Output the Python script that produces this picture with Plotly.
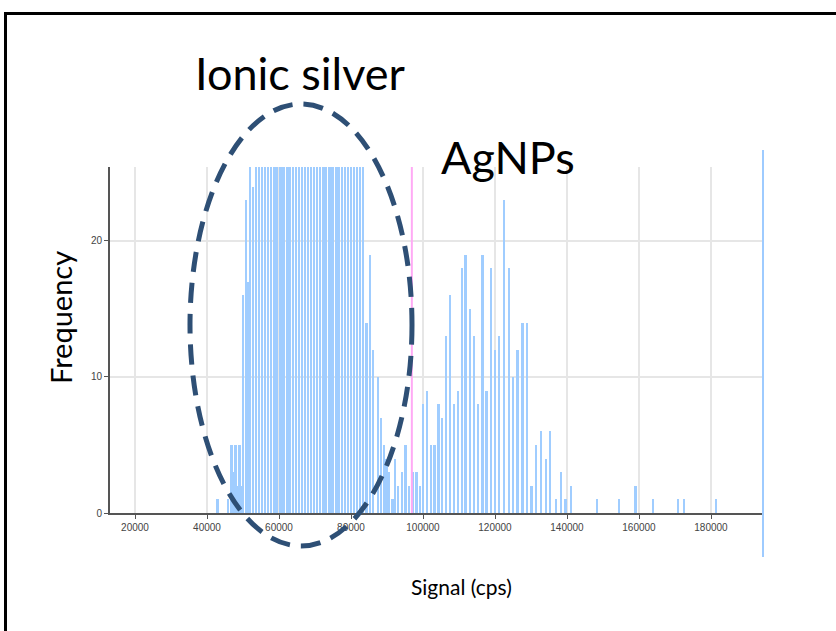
import plotly.graph_objects as go

# ---- data ----
signal_cps = [
    43000, 46000, 46900, 47400, 48000, 48500, 49100, 49600, 50100, 50800, 51500,
    52000, 52800, 53700, 54500, 55400, 56200, 57100, 57900, 58800, 59600,
    60500, 61300, 62200, 63000, 63900, 64700, 65600, 66400, 67300, 68100,
    69000, 69800, 70700, 71500, 72400, 73200, 74100, 74900, 75800, 76600,
    77500, 78300, 79200, 80000, 80900, 81700, 82600, 83500,
    84400, 85300, 86100, 87500, 88300, 89250, 89900, 90600, 91600, 92300,
    93200, 94200, 95200, 96200, 97200, 98250, 99200,
    100100, 101200, 102200, 103250, 104350, 105450, 106400, 107500, 108600,
    109700, 110800, 111900, 113050, 114150, 115450, 116600, 117700, 118950,
    120100, 121200, 122500, 123900, 125000, 126300, 127700, 128950,
    130200, 131450, 132800, 134150, 135450, 136950, 138300, 139650, 141200,
    148500, 154500, 159100, 164000, 170900, 172600, 181400,
]
frequency = [
    1, 1, 5, 3, 5, 2, 5, 2, 16, 23, 17,
    28, 24, 33, 38, 45, 52, 58, 63, 70, 74,
    78, 80, 82, 81, 79, 77, 74, 70, 66, 62,
    58, 55, 51, 48, 45, 42, 40, 37, 35, 33,
    31, 30, 29, 28, 27, 27, 26, 26,
    14, 19, 12, 10, 7, 5, 4, 3, 1, 4,
    2, 3, 5, 2, 3, 3, 2,
    8, 9, 5, 5, 8, 7, 13, 16, 8,
    9, 18, 19, 15, 13, 8, 19, 9, 18,
    12, 13, 23, 18, 10, 12, 14, 14,
    2, 5, 6, 4, 6, 1, 3, 1, 2,
    1, 1, 2, 1, 1, 1, 1,
]
x_tick_values = [20000, 40000, 60000, 80000, 100000, 120000, 140000, 160000, 180000]
x_tick_labels = ["20000", "40000", "60000", "80000", "100000", "120000", "140000", "160000", "180000"]
y_tick_values = [0, 10, 20]
y_tick_labels = ["0", "10", "20"]
threshold_cps = 96900

# ---- layout geometry (pixels) ----
W, H = 836, 631
L, R, T, B = 110, 73, 167, 118
PW, PH = W - L - R, H - T - B


def px(xp):
    return (xp - L) / PW


def py(yp):
    return (H - B - yp) / PH


bar_color = "rgb(160,205,255)"

fig = go.Figure()
fig.add_trace(go.Bar(
    x=signal_cps, y=frequency, width=480,
    marker=dict(color=bar_color, line=dict(width=0)),
    showlegend=False,
))

shapes = [
    # threshold line (pink)
    dict(type="line", xref="x", yref="paper", x0=threshold_cps, x1=threshold_cps,
         y0=0, y1=1, line=dict(color="rgb(255,170,245)", width=2), layer="above"),
    # blue vertical line at right edge
    dict(type="line", xref="paper", yref="paper", x0=1.0, x1=1.0,
         y0=py(557), y1=py(150), line=dict(color="rgb(158,203,255)", width=2)),
    # dashed ellipse
    dict(type="circle", xref="paper", yref="paper",
         x0=px(190), x1=px(412), y0=py(546), y1=py(104),
         line=dict(color="rgb(46,79,117)", width=5, dash="20px,11px"), layer="above"),
    # outer black frame
    dict(type="rect", xref="paper", yref="paper",
         x0=px(5.5), x1=px(850), y0=py(640), y1=py(13.5),
         line=dict(color="black", width=3)),
]

ann_font = "Lato, 'Open Sans', sans-serif"
annotations = [
    dict(text="Ionic silver", xref="paper", yref="paper", x=px(300), y=py(73),
         showarrow=False, font=dict(family=ann_font, size=45, color="black"),
         xanchor="center", yanchor="middle"),
    dict(text="AgNPs", xref="paper", yref="paper", x=px(508), y=py(157),
         showarrow=False, font=dict(family=ann_font, size=45, color="black"),
         xanchor="center", yanchor="middle"),
    dict(text="Frequency", xref="paper", yref="paper", x=px(60), y=py(318),
         showarrow=False, textangle=-90,
         font=dict(family=ann_font, size=29, color="black"),
         xanchor="center", yanchor="middle"),
    dict(text="Signal (cps)", xref="paper", yref="paper", x=px(461), y=py(586),
         showarrow=False, font=dict(family=ann_font, size=21, color="black"),
         xanchor="center", yanchor="middle"),
]

tick_font = dict(family="'Liberation Sans Narrow', 'Liberation Sans', Arial, sans-serif",
                 size=10, color="#444")

fig.update_layout(
    width=W, height=H,
    margin=dict(l=L, r=R, t=T, b=B, pad=0),
    paper_bgcolor="white", plot_bgcolor="white",
    bargap=0,
    shapes=shapes,
    annotations=annotations,
    xaxis=dict(
        range=[13056, 194444], tickmode="array",
        tickvals=x_tick_values, ticktext=x_tick_labels,
        showgrid=True, gridcolor="#E6E6E6", gridwidth=1.5,
        showline=True, linecolor="#555", linewidth=2,
        ticks="outside", ticklen=4, tickcolor="#555", tickwidth=1,
        tickfont=tick_font, zeroline=False,
    ),
    yaxis=dict(
        range=[0, 25.44], tickmode="array",
        tickvals=y_tick_values, ticktext=y_tick_labels,
        showgrid=True, gridcolor="#E6E6E6", gridwidth=1.5,
        showline=True, linecolor="#555", linewidth=2,
        ticks="outside", ticklen=4, tickcolor="#555", tickwidth=1,
        tickfont=tick_font, zeroline=False,
    ),
)

fig.write_html(
    "out.html",
    config={"displayModeBar": False},
    post_script="document.body.style.margin='0';document.body.style.overflow='hidden';",
)
